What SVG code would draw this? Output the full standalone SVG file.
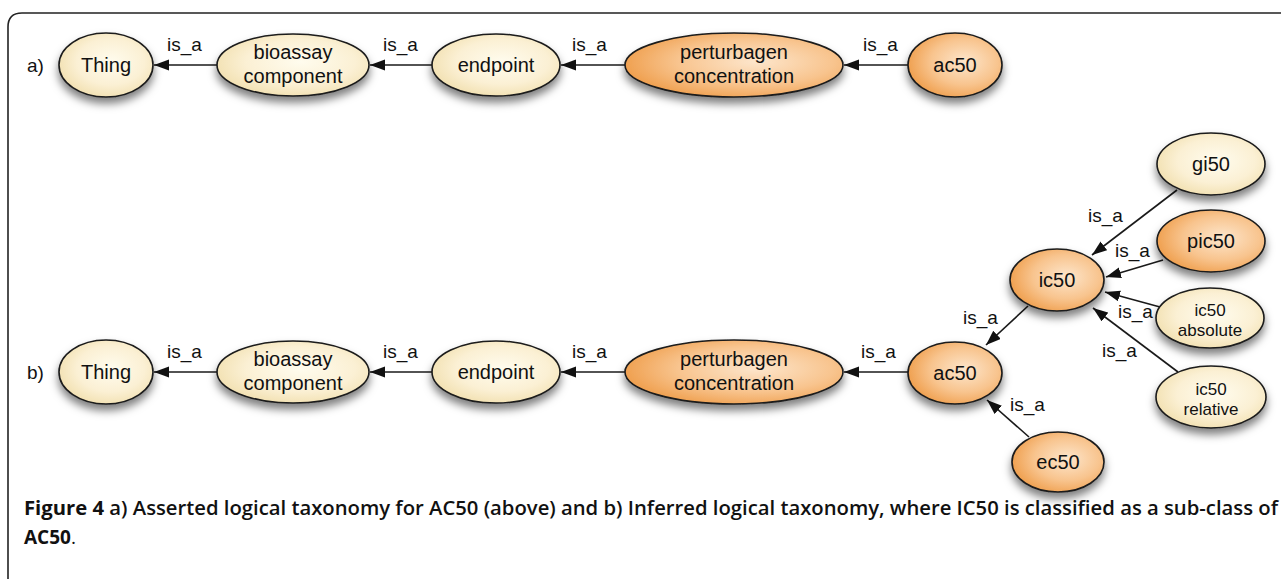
<svg xmlns="http://www.w3.org/2000/svg" width="1281" height="579" viewBox="0 0 1281 579">
<style>
.n{stroke:#1a1a1a;stroke-width:1.6;filter:url(#sh)}
.cream{fill:url(#gc)}
.orange{fill:url(#go)}
.t{font-family:"Liberation Sans",Arial,sans-serif;font-size:20px;fill:#111;text-anchor:middle}
.ts{font-family:"Liberation Sans",Arial,sans-serif;font-size:17px;fill:#111;text-anchor:middle}
.l{font-family:"Liberation Sans",Arial,sans-serif;font-size:19px;fill:#111}
.e{stroke:#1a1a1a;stroke-width:1.6;fill:none;marker-end:url(#ah)}
.cap{font-family:"Open Sans","Liberation Sans",sans-serif;font-size:19px;fill:#111}
</style>
<defs>
<radialGradient id="gc" cx="0.55" cy="0.45" r="0.6">
<stop offset="0" stop-color="#fffcee"/>
<stop offset="0.6" stop-color="#fbf0d4"/>
<stop offset="1" stop-color="#f1dfae"/>
</radialGradient>
<radialGradient id="go" cx="0.6" cy="0.45" r="0.65">
<stop offset="0" stop-color="#fde6cc"/>
<stop offset="0.55" stop-color="#f8c48e"/>
<stop offset="1" stop-color="#ee9a45"/>
</radialGradient>
<filter id="sh" x="-30%" y="-30%" width="160%" height="180%">
<feDropShadow dx="0" dy="6" stdDeviation="4" flood-color="#000" flood-opacity="0.5"/>
</filter>
<marker id="ah" markerUnits="userSpaceOnUse" markerWidth="16" markerHeight="12" refX="15" refY="5.5" orient="auto">
<path d="M0,0 L15,5.5 L0,11 z" fill="#111"/>
</marker>
</defs>
<path d="M8,579 L8,27 Q8,13 22,13 L1281,13" fill="none" stroke="#222" stroke-width="1.6"/>
<text class="l" x="27" y="72">a)</text>
<text class="l" x="27" y="379">b)</text>
<g id="connectors">
<line class="e" x1="217" y1="65" x2="154" y2="65"/>
<line class="e" x1="432" y1="65" x2="370" y2="65"/>
<line class="e" x1="625" y1="65" x2="561" y2="65"/>
<line class="e" x1="908" y1="65" x2="844" y2="65"/>
<line class="e" x1="217" y1="372" x2="154" y2="372"/>
<line class="e" x1="432" y1="372" x2="370" y2="372"/>
<line class="e" x1="625" y1="372" x2="561" y2="372"/>
<line class="e" x1="908" y1="372" x2="844" y2="372"/>
<line class="e" x1="1028" y1="306" x2="986" y2="345"/>
<line class="e" x1="1029" y1="437" x2="987" y2="400"/>
<line class="e" x1="1177" y1="190" x2="1092" y2="255"/>
<line class="e" x1="1163" y1="260" x2="1106" y2="277"/>
<line class="e" x1="1160" y1="307" x2="1105" y2="292"/>
<line class="e" x1="1178" y1="372" x2="1093" y2="308"/>
<text class="l" x="167" y="51">is_a</text>
<text class="l" x="383" y="51">is_a</text>
<text class="l" x="572" y="51">is_a</text>
<text class="l" x="863" y="51">is_a</text>
<text class="l" x="167" y="358">is_a</text>
<text class="l" x="383" y="358">is_a</text>
<text class="l" x="572" y="358">is_a</text>
<text class="l" x="861" y="358">is_a</text>
<text class="l" x="963" y="324">is_a</text>
<text class="l" x="1010" y="411">is_a</text>
<text class="l" x="1088" y="222">is_a</text>
<text class="l" x="1115" y="257">is_a</text>
<text class="l" x="1118" y="318">is_a</text>
<text class="l" x="1102" y="357">is_a</text>
</g>
<g id="a-thing"><ellipse class="n cream" cx="106" cy="65" rx="47" ry="32"/><text class="t" x="106" y="72">Thing</text></g>
<g id="a-bioassay"><ellipse class="n cream" cx="293" cy="65" rx="76" ry="31"/><text class="t" x="293" y="59">bioassay</text><text class="t" x="293" y="83">component</text></g>
<g id="a-endpoint"><ellipse class="n cream" cx="496" cy="65" rx="64" ry="31"/><text class="t" x="496" y="72">endpoint</text></g>
<g id="a-perturbagen"><ellipse class="n orange" cx="734" cy="65" rx="109" ry="32"/><text class="t" x="734" y="59">perturbagen</text><text class="t" x="734" y="83">concentration</text></g>
<g id="a-ac50"><ellipse class="n orange" cx="955" cy="65" rx="47" ry="32"/><text class="t" x="955" y="72">ac50</text></g>
<g id="b-thing"><ellipse class="n cream" cx="106" cy="372" rx="47" ry="32"/><text class="t" x="106" y="379">Thing</text></g>
<g id="b-bioassay"><ellipse class="n cream" cx="293" cy="372" rx="76" ry="31"/><text class="t" x="293" y="366">bioassay</text><text class="t" x="293" y="390">component</text></g>
<g id="b-endpoint"><ellipse class="n cream" cx="496" cy="372" rx="64" ry="31"/><text class="t" x="496" y="379">endpoint</text></g>
<g id="b-perturbagen"><ellipse class="n orange" cx="734" cy="372" rx="109" ry="32"/><text class="t" x="734" y="366">perturbagen</text><text class="t" x="734" y="390">concentration</text></g>
<g id="b-ac50"><ellipse class="n orange" cx="955" cy="373" rx="47" ry="31"/><text class="t" x="955" y="380">ac50</text></g>
<g id="b-ic50"><ellipse class="n orange" cx="1057" cy="280" rx="47" ry="31"/><text class="t" x="1057" y="287">ic50</text></g>
<g id="b-gi50"><ellipse class="n cream" cx="1211" cy="164" rx="54" ry="31"/><text class="t" x="1211" y="171">gi50</text></g>
<g id="b-pic50"><ellipse class="n orange" cx="1211" cy="241" rx="54" ry="31"/><text class="t" x="1211" y="248">pic50</text></g>
<g id="b-ic50abs"><ellipse class="n cream" cx="1210" cy="318" rx="54" ry="30"/><text class="ts" x="1210" y="316">ic50</text><text class="ts" x="1210" y="336">absolute</text></g>
<g id="b-ic50rel"><ellipse class="n cream" cx="1211" cy="397" rx="55" ry="31"/><text class="ts" x="1211" y="395">ic50</text><text class="ts" x="1211" y="415">relative</text></g>
<g id="b-ec50"><ellipse class="n orange" cx="1058" cy="462" rx="46" ry="30"/><text class="t" x="1058" y="469">ec50</text></g>
<text class="cap" x="24" y="515" textLength="1254" lengthAdjust="spacingAndGlyphs"><tspan font-weight="700">Figure 4</tspan><tspan font-weight="600"> a) Asserted logical taxonomy for AC50 (above) and b) Inferred logical taxonomy, where IC50 is classified as a sub-class of</tspan></text>
<text class="cap" x="24" y="544"><tspan font-weight="700">AC50</tspan><tspan font-weight="400">.</tspan></text>
</svg>
